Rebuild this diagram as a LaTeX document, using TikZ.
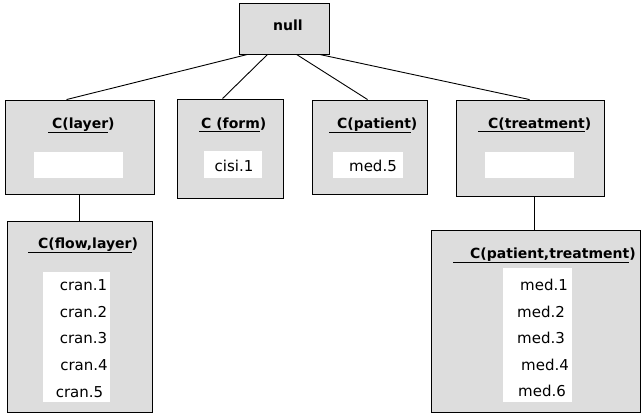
\documentclass[tikz,border=0pt]{standalone}
\usepackage{fontspec}
\setmainfont{DejaVu Sans}
\definecolor{boxgray}{HTML}{DDDDDD}
\tikzset{
  box/.style={draw=black, line width=0.9pt, fill=boxgray, inner sep=0pt, rectangle},
  wbox/.style={fill=white, draw=none, inner sep=0pt, rectangle},
  ttl/.style={inner sep=0pt, anchor=base west, font=\fontsize{14}{16}\selectfont\bfseries},
  entry/.style={inner sep=0pt, font=\fontsize{15}{17}\selectfont},
  conn/.style={draw=black, line width=0.9pt}
}
\begin{document}
\begin{tikzpicture}[x=1pt,y=-1pt]
\useasboundingbox (0,0) rectangle (641,415);
% boxes
\node[box, minimum width=90pt, minimum height=51pt] (null) at (284,28.5) {};
\node[box, minimum width=149pt, minimum height=94pt] (layer) at (79.5,147) {};
\node[box, minimum width=106pt, minimum height=99pt] (form) at (230,148.5) {};
\node[box, minimum width=115pt, minimum height=94pt] (patient) at (369.5,147) {};
\node[box, minimum width=148pt, minimum height=96pt] (treatment) at (530,148) {};
\node[box, minimum width=145pt, minimum height=191pt] (flowlayer) at (79.5,316.5) {};
\node[box, minimum width=209pt, minimum height=182pt] (pattreat) at (535.5,321) {};
% white areas
\node[wbox, minimum width=89pt, minimum height=26pt] (wlayer) at (78.5,165) {};
\node[wbox, minimum width=58pt, minimum height=27pt] (wform) at (233,164.5) {};
\node[wbox, minimum width=70pt, minimum height=26pt] (wpatient) at (368,165) {};
\node[wbox, minimum width=89pt, minimum height=26pt] (wtreatment) at (529.5,165) {};
\node[wbox, minimum width=67pt, minimum height=130pt] (wflow) at (76.5,337) {};
\node[wbox, minimum width=69pt, minimum height=134pt] (wpt) at (537.5,335) {};
% texts
\node[entry, font=\fontsize{14}{16}\selectfont\bfseries] (tnull) at (288,25) {null};
\node[ttl] (tlayer) at (48,128) {\underline{\hspace{4pt}C(layer})};
\node[ttl] (tform) at (199,128) {\underline{\hspace{2pt}C (form})};
\node[ttl] (tpatient) at (329,128) {\underline{\hspace{8pt}C(patient})};
\node[ttl] (ttreatment) at (478,128) {\underline{\hspace{10pt}C(treatment})};
\node[ttl] (tflow) at (28,248) {\underline{\hspace{10pt}C(flow,layer})};
\node[ttl] (tpt) at (453,258) {\underline{\hspace{17pt}C(patient,treatment})};
\node[entry] (cisi) at (234,166) {cisi.1};
\node[entry] (med5) at (373,166) {med.5};
\node[entry] (cran1) at (83.5,285) {cran.1};
\node[entry] (cran2) at (83.5,312) {cran.2};
\node[entry] (cran3) at (83.5,338) {cran.3};
\node[entry] (cran4) at (84,365) {cran.4};
\node[entry] (cran5) at (79.5,392) {cran.5};
\node[entry] (med1) at (544,285) {med.1};
\node[entry] (med2) at (541,312) {med.2};
\node[entry] (med3) at (541,338) {med.3};
\node[entry] (med4) at (545,365) {med.4};
\node[entry] (med6) at (542,391) {med.6};
% connectors
\draw[conn] ([xshift=9pt]null.south west) -- ([xshift=62pt]layer.north west);
\draw[conn] ([xshift=29pt]null.south west) -- ([xshift=46pt]form.north west);
\draw[conn] ([xshift=58pt]null.south west) -- ([xshift=56pt]patient.north west);
\draw[conn] ([xshift=81pt]null.south west) -- ([xshift=74pt]treatment.north west);
\draw[conn] ([xshift=75pt]layer.south west) -- ([xshift=73pt]flowlayer.north west);
\draw[conn] ([xshift=79pt]treatment.south west) -- ([xshift=104pt]pattreat.north west);
\end{tikzpicture}
\end{document}
